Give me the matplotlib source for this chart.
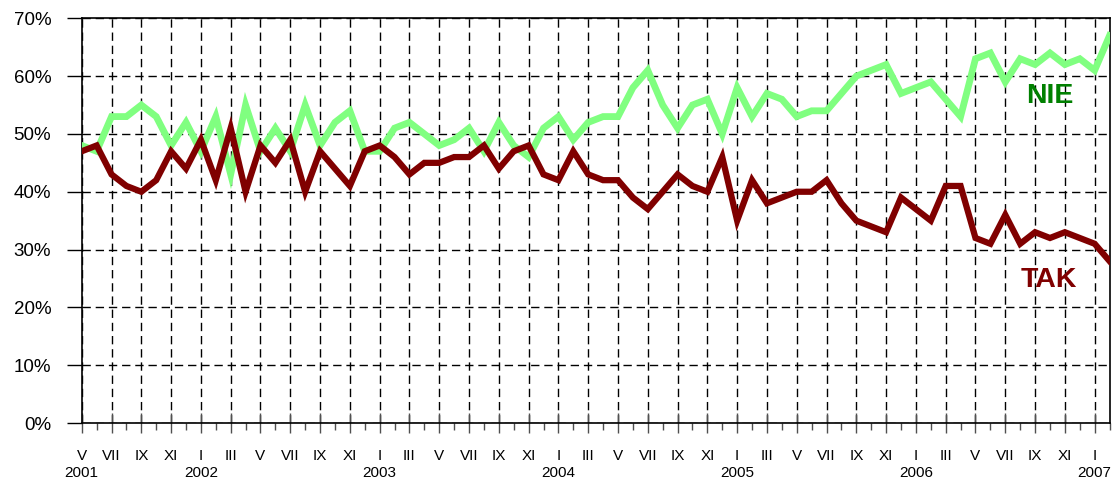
import matplotlib
matplotlib.use("Agg")
import matplotlib.pyplot as plt

plt.rcParams['font.family'] = ['Liberation Sans', 'DejaVu Sans']

# monthly survey, V 2001 .. II 2007
tak = [47, 48, 43, 41, 40, 42, 47, 44, 49, 42, 51, 40, 48, 45, 49, 40, 47, 44, 41,
       47, 48, 46, 43, 45, 45, 46, 46, 48, 44, 47, 48, 43, 42, 47, 43, 42, 42, 39,
       37, 40, 43, 41, 40, 46, 35, 42, 38, 39, 40, 40, 42, 38, 35, 34, 33, 39, 37,
       35, 41, 41, 32, 31, 36, 31, 33, 32, 33, 32, 31, 28]
nie = [48, 47, 53, 53, 55, 53, 48, 52, 47, 53, 43, 55, 47, 51, 47, 55, 48, 52, 54,
       47, 47, 51, 52, 50, 48, 49, 51, 47, 52, 48, 46, 51, 53, 49, 52, 53, 53, 58,
       61, 55, 51, 55, 56, 50, 58, 53, 57, 56, 53, 54, 54, 57, 60, 61, 62, 57, 58,
       59, 56, 53, 63, 64, 59, 63, 62, 64, 62, 63, 61, 67]

roman = ["I", "II", "III", "IV", "V", "VI", "VII", "VIII", "IX", "X", "XI", "XII"]
first_year = 2001
first_month = 5  # V

months = list(range(len(tak)))

# tick labels: every second month, year under the first one and under each January
labels = []
for i in range(0, len(months), 2):
    m = (first_month - 1 + i) % 12
    y = first_year + (first_month - 1 + i) // 12
    txt = roman[m]
    if i == 0 or m == 0:
        txt += "\n" + str(y)
    labels.append(txt)

fig = plt.figure(figsize=(11.12, 4.79), dpi=100)
ax = fig.add_axes([0.0735, 0.1169, 0.9243, 0.8449])

ax.plot(months, nie, color='#80FF80', lw=4.9, solid_joinstyle='miter', zorder=3)
ax.plot(months, tak, color='#800000', lw=4.5, solid_joinstyle='miter', zorder=4)

ax.text(65.0, 56.5, "NIE", color='#008000', fontsize=20.5, fontweight='bold',
        ha='center', va='center')
ax.text(64.9, 24.8, "TAK", color='#800000', fontsize=20.5, fontweight='bold',
        ha='center', va='center')

ax.set_xlim(0, len(months) - 1)
ax.set_ylim(0, 70)

ax.set_yticks(range(0, 71, 10))
ax.set_yticklabels([f"{v}%" for v in range(0, 71, 10)], fontsize=13.5)
ax.set_xticks(range(0, len(months), 2))
ax.set_xticklabels(labels, fontsize=11, linespacing=1.28)
ax.set_xticks(range(1, len(months), 2), minor=True)

ax.tick_params(axis='y', direction='out', length=11, width=1, pad=11)
ax.tick_params(axis='x', which='major', direction='inout', length=15, width=1,
               color='#505050', pad=11)
ax.tick_params(axis='x', which='minor', direction='out', length=5, width=1,
               color='#505050')

ax.grid(True, color='black', linestyle=(0, (6, 3.5)), linewidth=1)
ax.set_axisbelow(True)

for s in ax.spines.values():
    s.set_linewidth(1.2)
    s.set_color('black')

fig.savefig("out.png", dpi=100)
plt.close(fig)
